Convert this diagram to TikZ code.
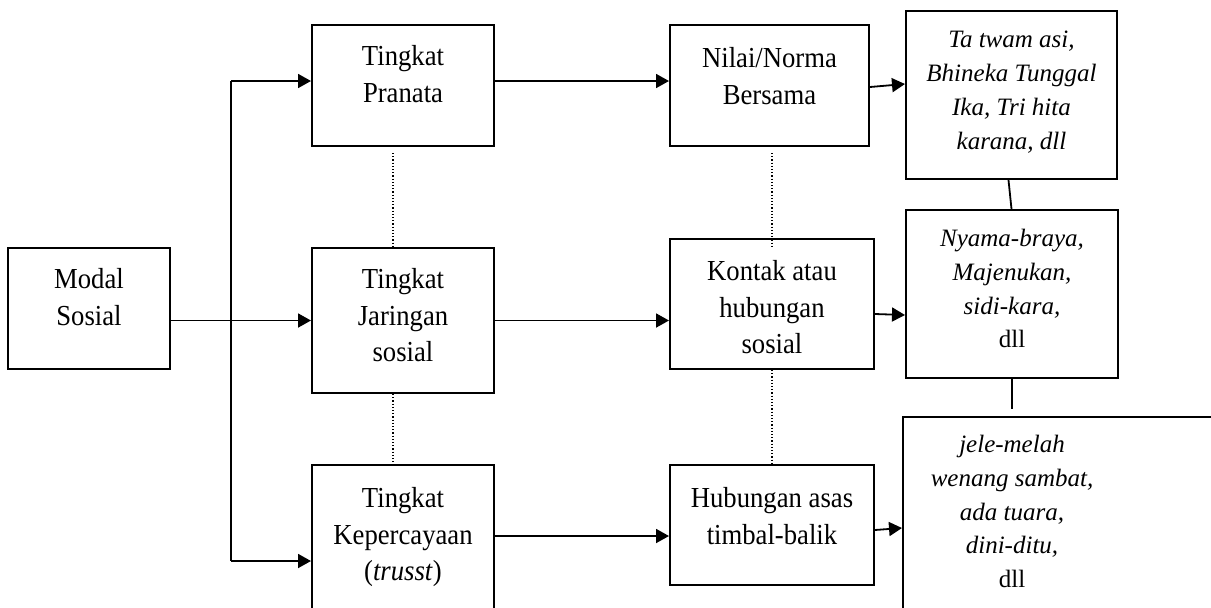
\documentclass[tikz,border=0pt]{standalone}
\usepackage{fontspec}
\setmainfont{Liberation Serif}
\newfontfamily\mainfnt{Liberation Serif}[FakeStretch=0.92]
\usetikzlibrary{arrows.meta,fit,calc}
\begin{document}
\begin{tikzpicture}[x=0.5pt,y=-0.5pt,
  box/.style={draw, line width=1pt, inner sep=0pt},
  lbl/.style={anchor=north, inner sep=0pt, align=center, font=\mainfnt\fontsize{14.5}{18.25}\selectfont},
  rlbl/.style={anchor=north, inner sep=0pt, align=center, font=\fontsize{12.5}{16.85}\selectfont\itshape},
  conn/.style={line width=0.9pt},
  arr/.style={conn, -{Triangle[length=6.5pt,width=7pt]}},
  dotline/.style={line width=0.6pt, dash pattern=on 0.6pt off 1pt}]
\useasboundingbox (0,0) rectangle (1211,607);
\clip (0,0) rectangle (1211,607);
% boxes
\node[box, fit={(8,248)(170,369)}] (modal) {};
\node[box, fit={(312,25)(494,146)}] (pran) {};
\node[box, fit={(312,248)(494,393)}] (jar) {};
\node[box, fit={(312,465)(494,657)}] (kep) {};
\node[box, fit={(670,25)(869,146)}] (nilai) {};
\node[box, fit={(670,239)(874,369)}] (kontak) {};
\node[box, fit={(670,465)(874,585)}] (hub) {};
\node[box, fit={(906,11)(1117,179)}] (ta) {};
\node[box, fit={(906,210)(1118,378)}] (nyama) {};
\node[box, fit={(903,417)(1260,660)}] (jele) {};
% texts
\node[lbl] (tmodal) at (89,268) {Modal\\Sosial};
\node[lbl] (tpran) at (403,45) {Tingkat\\Pranata};
\node[lbl] (tjar) at (403,268) {Tingkat\\Jaringan\\sosial};
\node[lbl] (tkep) at (403,487) {Tingkat\\Kepercayaan\\(\textit{trusst})};
\node[lbl] (tnilai) at (769.5,47) {Nilai/Norma\\Bersama};
\node[lbl] (tkontak) at (772,260) {Kontak atau\\hubungan\\sosial};
\node[lbl] (thub) at (772,487) {Hubungan asas\\timbal-balik};
\node[rlbl] (tta) at (1011.5,31) {Ta twam asi,\\Bhineka Tunggal\\Ika, Tri hita\\karana, dll};
\node[rlbl] (tnyama) at (1012,229) {Nyama-braya,\\Majenukan,\\sidi-kara,\\\upshape dll};
\node[rlbl] (tjele) at (1012,435) {jele-melah\\wenang sambat,\\ada tuara,\\dini-ditu,\\\upshape dll};
% trunk
\coordinate (tTop) at (231,81);
\coordinate (tBot) at (231,561);
\draw[conn] (tTop) -- (tBot);
\draw[arr] (tTop) -- (tTop -| pran.west);
\draw[arr] (tBot) -- (tBot -| kep.west);
\draw[arr] (modal.east |- jar.west) -- (jar.west);
% middle arrows
\draw[arr] (tTop -| pran.east) -- (tTop -| nilai.west);
\draw[arr] (jar.east) -- (jar.east -| kontak.west);
\draw[arr] ([yshift=-36pt]kep.north east) -- ([yshift=-36pt]kep.north east -| hub.west);
% right arrows
\draw[arr] ([yshift=-0.75pt]nilai.east) -- ([yshift=5.5pt]ta.west);
\draw[arr] ([yshift=-5pt]kontak.east) -- ([yshift=-10.5pt]nyama.west);
\draw[arr] ([yshift=-2.5pt]hub.east) -- ([yshift=-56pt]jele.north west);
% right solid links
\draw[conn] ([xshift=-1.5pt]ta.south) -- (ta.south |- nyama.north);
\coordinate (nj) at (1012,409);
\draw[conn] (nyama.south) -- (nj);
% dotted links
\draw[dotline] ([xshift=-5pt,yshift=-3pt]pran.south) -- ([xshift=-5pt]jar.north);
\draw[dotline] ([xshift=-5pt]jar.south) -- ([xshift=-5pt]kep.north);
\draw[dotline] ([yshift=-3pt]nilai.south -| kontak.north) -- ([yshift=-4pt]kontak.north);
\draw[dotline] (kontak.south) -- (hub.north);
\end{tikzpicture}
\end{document}
